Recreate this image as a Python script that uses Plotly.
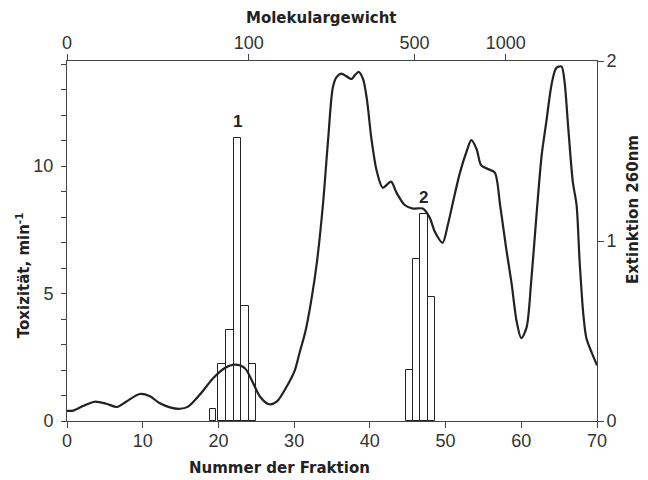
import plotly.graph_objects as go

# ---- data ----
fraction = [0, 0.8, 2.1, 3.65, 5.2, 6.6, 7.8, 9.6, 10.9, 12.2, 13.6, 14.9, 16.0, 17.5,
            19.3, 20.8, 22.2, 23.5, 24.6, 25.5, 26.7, 27.7, 29.0, 30.1, 30.7, 31.5,
            32.3, 33.0, 33.8, 34.5, 35.1, 35.6, 36.25, 36.9, 37.57, 38.0, 38.53, 39.1,
            39.6, 40.2, 40.9, 41.7, 42.8, 43.5, 44.6, 45.7, 47.0, 47.9, 48.6, 49.6,
            50.3, 51.0, 51.9, 52.8, 53.4, 54.1, 54.7, 55.6, 56.5, 57.2, 58.0, 58.7,
            59.4, 60.0, 60.7, 61.3, 62.0, 62.7, 63.3, 64.0, 64.6, 65.3, 65.7, 66.2,
            66.8, 67.3, 67.7, 68.2, 68.6, 69.3, 70.0]
extinction = [0.056, 0.058, 0.083, 0.107, 0.096, 0.078, 0.107, 0.15, 0.139, 0.10, 0.076,
              0.068, 0.08, 0.144, 0.237, 0.293, 0.313, 0.293, 0.209, 0.135, 0.093, 0.107,
              0.19, 0.283, 0.376, 0.50, 0.68, 0.88, 1.2, 1.57, 1.85, 1.91, 1.93, 1.915,
              1.90, 1.92, 1.94, 1.90, 1.79, 1.57, 1.39, 1.296, 1.33, 1.27, 1.2, 1.18,
              1.18, 1.13, 1.05, 0.99, 1.09, 1.22, 1.38, 1.50, 1.56, 1.51, 1.42, 1.40,
              1.38, 1.2, 0.96, 0.77, 0.55, 0.46, 0.52, 0.77, 1.14, 1.48, 1.66, 1.87,
              1.96, 1.97, 1.89, 1.63, 1.33, 1.2, 0.89, 0.59, 0.46, 0.38, 0.31]

tox_fraction = [19.25, 20.5, 21.5, 22.5, 23.5, 24.5, 45.2, 46.2, 47.15, 48.1]
toxicity = [0.47, 2.24, 3.58, 11.1, 4.53, 2.24, 2.0, 6.34, 8.1, 4.88]
tox_width = [0.8, 1, 1, 1, 1, 1, 0.97, 0.97, 0.97, 0.97]

peak_labels = ["1", "2"]
peak_x = [22.5, 47.15]
peak_y = [11.1, 8.1]

mw_positions = [0, 24.0, 45.9, 57.95]
mw_labels = ["0", "100", "500", "1000"]

INK = "#222222"
AXC = "#444444"
TICKFONT = dict(family="Liberation Sans, Arial, sans-serif", size=18, color="#333333")
TITLEFONT = dict(family="DejaVu Sans, sans-serif", size=15, color=INK, weight="bold")

fig = go.Figure()

fig.add_trace(go.Bar(x=tox_fraction, y=toxicity, width=tox_width,
                     marker=dict(color="white", line=dict(color=INK, width=1)),
                     xaxis="x", yaxis="y", showlegend=False, hoverinfo="skip"))

fig.add_trace(go.Scatter(x=fraction, y=extinction, mode="lines",
                         line=dict(color=INK, width=2.2, shape="spline", smoothing=0.8),
                         xaxis="x", yaxis="y2", showlegend=False))

# invisible trace to anchor the top (molecular weight) axis
fig.add_trace(go.Scatter(x=[0, 70], y=[0, 0], mode="lines", line=dict(width=0),
                         xaxis="x2", yaxis="y", showlegend=False, hoverinfo="skip"))

for lab, px, py in zip(peak_labels, peak_x, peak_y):
    fig.add_annotation(x=px, y=py, xref="x", yref="y", text=lab, showarrow=False,
                       xanchor="center", yanchor="bottom", yshift=5,
                       font=dict(family="Liberation Sans, Arial, sans-serif", size=17,
                                 color=INK, weight="bold"))

fig.add_annotation(x=0.481, y=1.119, xref="paper", yref="paper", text="Molekulargewicht",
                   xanchor="center", yanchor="middle", showarrow=False, font=TITLEFONT)
fig.add_annotation(x=0.40, y=-0.131, xref="paper", yref="paper", text="Nummer der Fraktion",
                   xanchor="center", yanchor="middle", showarrow=False, font=TITLEFONT)
fig.add_annotation(x=-0.083, y=0.405, xref="paper", yref="paper",
                   text="Toxizität, min<sup>-1</sup>", textangle=-90,
                   xanchor="center", yanchor="middle", showarrow=False, font=TITLEFONT)
fig.add_annotation(x=1.068, y=0.586, xref="paper", yref="paper",
                   text="Extinktion 260nm", textangle=-90,
                   xanchor="center", yanchor="middle", showarrow=False, font=TITLEFONT)

# page body has an 8px default margin, so the figure is drawn 8px in from the corner
fig.update_layout(
    width=640, height=472,
    margin=dict(l=59, r=51, t=53, b=59),
    paper_bgcolor="white", plot_bgcolor="white",
    bargap=0, barmode="overlay",
    xaxis=dict(range=[0, 70], dtick=10, ticks="outside", ticklen=6, tickcolor=AXC,
               showline=True, linecolor=AXC, linewidth=1, showgrid=False, zeroline=False,
               tickfont=TICKFONT, ticklabelstandoff=-3),
    xaxis2=dict(range=[0, 70], overlaying="x", side="top", anchor="y",
                tickvals=mw_positions, ticktext=mw_labels, ticks="outside", ticklen=6,
                tickcolor=AXC, showline=True, linecolor=AXC, linewidth=1,
                showgrid=False, zeroline=False, tickfont=TICKFONT, ticklabelstandoff=-2),
    yaxis=dict(range=[0, 14.12], tickvals=[0, 5, 10], ticks="outside", ticklen=5,
               tickcolor=AXC, showline=True, linecolor=AXC, linewidth=1,
               showgrid=False, zeroline=False, tickfont=TICKFONT, ticklabelstandoff=4,
               minor=dict(dtick=1, ticks="outside", ticklen=5, tickcolor=AXC)),
    yaxis2=dict(range=[0, 2], dtick=1, overlaying="y", side="right", anchor="x",
                ticks="outside", ticklen=6, tickcolor=AXC, showline=True, linecolor=AXC,
                linewidth=1, showgrid=False, zeroline=False, tickfont=TICKFONT,
                ticklabelstandoff=-1),
)

fig.write_html("out.html")
